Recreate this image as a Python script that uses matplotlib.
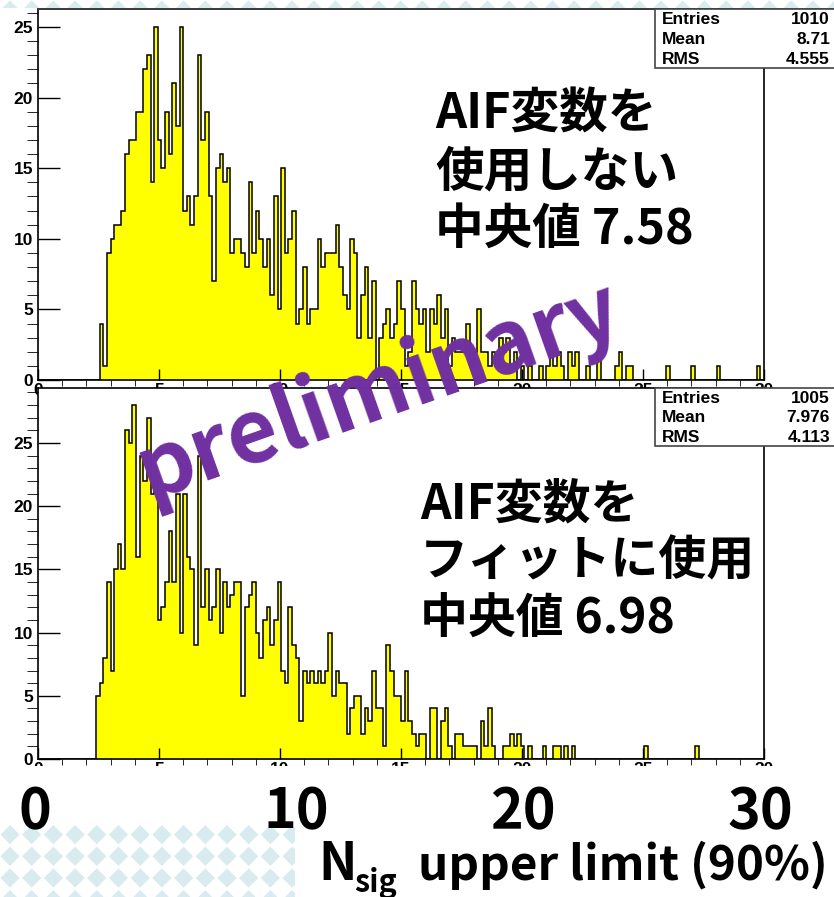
import numpy as np
import matplotlib.pyplot as plt
from matplotlib.patches import Polygon, Rectangle
from matplotlib.collections import PolyCollection
from matplotlib.ticker import MultipleLocator

# ── Figuurgrootte in pixels ──────────────────────────────────────────────────
W, H = 834, 897
CJK = ["Noto Sans CJK JP", "DejaVu Sans"]
ROOT_FONT = "Liberation Sans"
PURPLE = "#7030a0"
PATTERN = "#d8ebef"

# ── Data: 200 bins tussen 0 en 30 ────────────────────────────────────────────
n_bins = 200
x_min, x_max = 0.0, 30.0

# bovenste histogram (zonder AIF), eerste gevulde bin = 17
top_first_bin = 17
top_counts = [
    4, 1, 9, 10, 11, 11, 12, 16, 17, 17, 19, 19, 22, 23, 14, 25, 17, 15, 19, 16,
    21, 18, 25, 12, 13, 11, 13, 23, 17, 19, 13, 7, 15, 16, 14, 15, 9, 10, 10, 9,
    8, 14, 9, 12, 10, 8, 10, 6, 13, 5, 15, 9, 10, 12, 4, 5, 8, 4, 5, 5,
    10, 8, 9, 9, 9, 11, 8, 6, 5, 10, 9, 3, 6, 8, 3, 7, 0, 3, 4, 5,
    3, 4, 7, 5, 1, 2, 7, 5, 4, 5, 2, 5, 4, 6, 3, 5, 1, 3, 2, 2,
    2, 4, 1, 2, 5, 2, 2, 1, 2, 1, 3, 2, 3, 1, 2, 0, 1, 0, 1, 0,
    0, 1, 0, 1, 2, 1, 2, 1, 0, 2, 1, 2, 0, 0, 1, 0, 0, 2, 0, 0,
    0, 0, 1, 2, 0, 1, 1, 0, 0, 0, 0, 0, 0, 0, 0, 0, 1, 0, 0, 0,
    0, 0, 0, 1, 0, 0, 0, 0, 0, 0, 1, 0, 0, 0, 0, 0, 0, 0, 0, 0,
    0, 1,
]

# onderste histogram (AIF in fit), eerste gevulde bin = 16
bot_first_bin = 16
bot_counts = [
    5, 6, 8, 14, 7, 15, 17, 15, 26, 25, 28, 16, 24, 22, 27, 21, 22, 11, 12, 14,
    18, 14, 21, 10, 21, 16, 15, 9, 24, 12, 15, 11, 12, 15, 10, 14, 12, 13, 14, 14,
    5, 12, 13, 14, 10, 8, 11, 12, 9, 11, 14, 7, 6, 12, 9, 8, 3, 7, 6, 7,
    6, 7, 6, 7, 10, 5, 7, 6, 6, 2, 4, 5, 5, 2, 4, 3, 7, 4, 4, 1,
    9, 7, 5, 5, 3, 7, 3, 2, 1, 2, 2, 0, 4, 4, 0, 3, 4, 1, 0, 2,
    2, 1, 1, 1, 1, 0, 3, 1, 4, 1, 0, 0, 1, 1, 2, 1, 2, 1, 0, 1,
    0, 0, 0, 1, 0, 0, 1, 1, 0, 1, 0, 1, 0, 0, 0, 0, 0, 0, 0, 0,
    0, 0, 0, 0, 0, 0, 0, 0, 0, 0, 0, 1, 0, 0, 0, 0, 0, 0, 0, 0,
    0, 0, 0, 0, 0, 1,
]

stat_names = ["Entries", "Mean", "RMS"]
top_stats = ["1010", "8.71", "4.555"]
bot_stats = ["1005", "7.976", "4.113"]

top_label = ["AIF変数を", "使用しない", "中央値 7.58"]
bot_label = ["AIF変数を", "フィットに使用", "中央値 6.98"]

big_ticks = ["0", "10", "20", "30"]
big_tick_x = [35, 296, 523, 760]      # pixelposities op de dia
# ─────────────────────────────────────────────────────────────────────────────


def full_counts(first_bin, values):
    counts = np.zeros(n_bins)
    counts[first_bin:first_bin + len(values)] = values
    return counts


def px_axes(left, top, right, bottom):
    """Axes-rechthoek uit pixelcoordinaten (oorsprong linksboven)."""
    return [left / W, 1 - bottom / H, (right - left) / W, (bottom - top) / H]


def draw_hist(ax, counts, y_max):
    edges = np.linspace(x_min, x_max, n_bins + 1)
    ax.stairs(counts, edges, fill=True, color="#ffff00", lw=0)
    ax.stairs(counts, edges, color="black", lw=1.1, baseline=0)
    ax.set_xlim(x_min, x_max)
    ax.set_ylim(0, y_max)
    ax.xaxis.set_major_locator(MultipleLocator(5))
    ax.xaxis.set_minor_locator(MultipleLocator(1))
    ax.yaxis.set_major_locator(MultipleLocator(5))
    ax.yaxis.set_minor_locator(MultipleLocator(1))
    ax.tick_params(direction="in", colors="black", width=1.0)
    ax.tick_params(axis="y", which="major", length=15.5, pad=3.5)
    ax.tick_params(axis="y", which="minor", length=7.8)
    ax.tick_params(axis="x", which="major", length=7.8, pad=2.5)
    ax.tick_params(axis="x", which="minor", length=4.0)
    for lab in ax.get_xticklabels() + ax.get_yticklabels():
        lab.set_fontfamily(ROOT_FONT)
        lab.set_fontweight("bold")
        lab.set_fontsize(12.5)
    for sp in ax.spines.values():
        sp.set_linewidth(1.2)
        sp.set_color("black")


def stats_box(ax, top, bottom, values):
    ax.add_patch(Rectangle((655, top), 182, bottom - top, facecolor="white",
                           edgecolor="#444444", lw=1.2, zorder=5))
    row_h = (bottom - top) / 3
    for k, (name, val) in enumerate(zip(stat_names, values)):
        yc = top + row_h * (k + 0.5) + 1
        ax.text(662, yc, name, ha="left", va="center", fontsize=12.5,
                fontfamily=ROOT_FONT, fontweight="bold", zorder=6)
        ax.text(830, yc, val, ha="right", va="center", fontsize=12.5,
                fontfamily=ROOT_FONT, fontweight="bold", zorder=6)


fig = plt.figure(figsize=(W / 100, H / 100), dpi=100)

# ── Achtergrond van de dia: ruitjespatroon + wit vlak ────────────────────────
ax_bg = fig.add_axes([0, 0, 1, 1], zorder=-5)
ax_bg.set_xlim(0, W)
ax_bg.set_ylim(H, 0)
ax_bg.axis("off")
step, half = 21.7, 9.6
diamonds = []
for cy in np.arange(10, H + 20, step):
    for cx in np.arange(10, W + 20, step):
        diamonds.append([(cx - half, cy), (cx, cy - half), (cx + half, cy), (cx, cy + half)])
ax_bg.add_collection(PolyCollection(diamonds, facecolors=PATTERN, edgecolors="none"))
ax_bg.add_patch(Polygon([(0, 8), (W, 8), (W, H), (295, H), (295, 825), (0, 825)],
                        closed=True, facecolor="white", edgecolor="none"))

# ── De twee histogrammen ─────────────────────────────────────────────────────
ax_top = fig.add_axes(px_axes(38, 9, 764, 380), zorder=1)
draw_hist(ax_top, full_counts(top_first_bin, top_counts), 371 / 14.12)

ax_bot = fig.add_axes(px_axes(38, 388, 764, 759), zorder=2)
draw_hist(ax_bot, full_counts(bot_first_bin, bot_counts), 371 / 12.64)

# ── Voorgrond: teksten, statistiekkaders, "preliminary" ──────────────────────
ax_fg = fig.add_axes([0, 0, 1, 1], zorder=10)
ax_fg.set_xlim(0, W)
ax_fg.set_ylim(H, 0)
ax_fg.axis("off")
ax_fg.patch.set_alpha(0)

# wit vlak onder de onderste as (verbergt de kleine ROOT-labels)
ax_fg.add_patch(Polygon([(0, 766), (W, 766), (W, H), (295, H), (295, 825), (0, 825)],
                        closed=True, facecolor="white", edgecolor="none", zorder=1))
ax_fg.plot([38, W], [9, 9], color="#444444", lw=1.2, zorder=2)

stats_box(ax_fg, 9, 68, top_stats)
stats_box(ax_fg, 388, 446, bot_stats)

for k, line in enumerate(top_label):
    ax_fg.text(435, 129 + 57.5 * k, line, ha="left", va="baseline", fontsize=35,
               fontfamily=CJK, fontweight="bold", zorder=7)
for k, line in enumerate(bot_label):
    ax_fg.text(420, 518 + 57.5 * k, line, ha="left", va="baseline", fontsize=34.5,
               fontfamily=CJK, fontweight="bold", zorder=7)

for lab, xp in zip(big_ticks, big_tick_x):
    ax_fg.text(xp, 828, lab, ha="center", va="baseline", fontsize=40,
               fontfamily=CJK, fontweight="bold", zorder=7)

ax_fg.text(318, 880, "N", ha="left", va="baseline", fontsize=37,
           fontfamily=CJK, fontweight="bold", zorder=7)
ax_fg.text(354, 892, "sig", ha="left", va="baseline", fontsize=22,
           fontfamily=CJK, fontweight="bold", zorder=7)
ax_fg.text(828, 880, "upper limit (90%)", ha="right", va="baseline", fontsize=34.3,
           fontfamily=CJK, fontweight="bold", zorder=7)

ax_fg.text(387, 415, "preliminary", ha="center", va="baseline", fontsize=63,
           fontfamily=CJK, fontweight="bold", color=PURPLE, rotation=19.5,
           rotation_mode="anchor", zorder=8)

fig.savefig("out.png", dpi=100)
